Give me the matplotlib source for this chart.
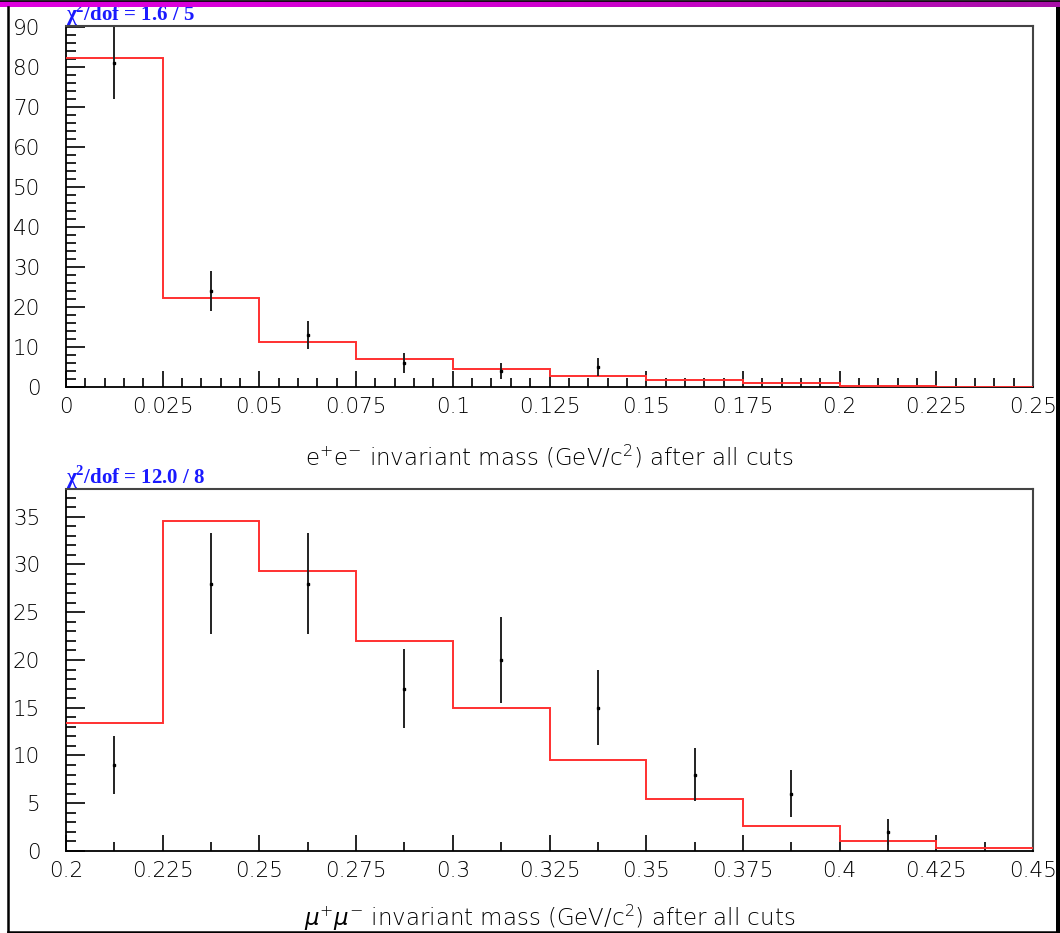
import numpy as np
import matplotlib
matplotlib.use("Agg")
import matplotlib.pyplot as plt
from matplotlib.ticker import MultipleLocator, FixedLocator, FixedFormatter
from matplotlib.lines import Line2D
from matplotlib.colors import LinearSegmentedColormap
from matplotlib.patches import Rectangle

plt.rcParams['font.family'] = ['DejaVu Sans']

# ---------------- data: e+e- panel ----------------
ee_edges = [0.0, 0.025, 0.05, 0.075, 0.1, 0.125, 0.15, 0.175, 0.2, 0.225, 0.25]
ee_fit = [82.3, 22.2, 11.2, 7.1, 4.5, 2.75, 1.85, 0.9, 0.15, 0.1]
ee_x = [0.0125, 0.0375, 0.0625, 0.0875, 0.1125, 0.1375]
ee_counts = [81, 24, 13, 6, 4, 5]
ee_err = [9.0, 4.9, 3.6, 2.45, 2.0, 2.24]
ee_xticks = [0, 0.025, 0.05, 0.075, 0.1, 0.125, 0.15, 0.175, 0.2, 0.225, 0.25]
ee_xticklabels = ["0", "0.025", "0.05", "0.075", "0.1", "0.125", "0.15", "0.175", "0.2", "0.225", "0.25"]
ee_yticks = [0, 10, 20, 30, 40, 50, 60, 70, 80, 90]
ee_chi = r"χ$^{\mathbf{2}}$/dof = 1.6 / 5"
ee_xlabel = r"e$^{+}$e$^{-}$ invariant mass (GeV/c$^{2}$) after all cuts"

# ---------------- data: mu+mu- panel ----------------
mm_edges = [0.2, 0.225, 0.25, 0.275, 0.3, 0.325, 0.35, 0.375, 0.4, 0.425, 0.45]
mm_fit = [13.4, 34.6, 29.3, 22.0, 15.0, 9.5, 5.4, 2.6, 1.0, 0.35]
mm_x = [0.2125, 0.2375, 0.2625, 0.2875, 0.3125, 0.3375, 0.3625, 0.3875, 0.4125]
mm_counts = [9, 28, 28, 17, 20, 15, 8, 6, 2]
mm_err = [3.0, 5.3, 5.3, 4.1, 4.5, 3.9, 2.8, 2.45, 1.4]
mm_xticks = [0.2, 0.225, 0.25, 0.275, 0.3, 0.325, 0.35, 0.375, 0.4, 0.425, 0.45]
mm_xticklabels = ["0.2", "0.225", "0.25", "0.275", "0.3", "0.325", "0.35", "0.375", "0.4", "0.425", "0.45"]
mm_yticks = [0, 5, 10, 15, 20, 25, 30, 35]
mm_chi = r"χ$^{\mathbf{2}}$/dof = 12.0 / 8"
mm_xlabel = r"$\mu^{+}\mu^{-}$ invariant mass (GeV/c$^{2}$) after all cuts"

W, H = 1060, 933
fig = plt.figure(figsize=(W / 100, H / 100), dpi=100)
fig.patch.set_facecolor('white')

TXT = 'black'

plt.rcParams['mathtext.fontset'] = 'custom'
plt.rcParams['mathtext.bf'] = 'Liberation Serif:bold'
plt.rcParams['mathtext.rm'] = 'DejaVu Sans:light'
plt.rcParams['mathtext.it'] = 'DejaVu Sans:italic:light'


def panel(rect, edges, fit, xs, counts, errs, xticks, xtl, yticks, ymax,
          xminor, yminor, chi, xlabel, xlabel_y):
    ax = fig.add_axes(rect)
    ax.stairs(fit, edges, baseline=None, color='#ff3030', lw=1.4, zorder=3)
    ax.errorbar(xs, counts, yerr=errs, fmt='s', ms=2, color='black',
                ecolor='#222222', elinewidth=1.4, capsize=0, zorder=4)
    ax.set_xlim(edges[0], edges[-1])
    ax.set_ylim(0, ymax)
    ax.xaxis.set_major_locator(FixedLocator(xticks))
    ax.xaxis.set_major_formatter(FixedFormatter(xtl))
    ax.xaxis.set_minor_locator(MultipleLocator(xminor))
    ax.yaxis.set_major_locator(FixedLocator(yticks))
    ax.yaxis.set_major_formatter(FixedFormatter([str(v) for v in yticks]))
    ax.yaxis.set_minor_locator(MultipleLocator(yminor))
    ax.tick_params(axis='x', which='major', direction='in', length=11.5, width=1.2,
                   pad=7, labelsize=15.5, color='black', labelcolor=TXT)
    ax.tick_params(axis='x', which='minor', direction='in', length=6.5, width=1.2, color='black')
    ax.tick_params(axis='y', which='major', direction='in', length=13.5, width=1.2,
                   pad=18.5, labelsize=15.5, color='black', labelcolor=TXT)
    ax.tick_params(axis='y', which='minor', direction='in', length=7, width=1.2, color='black')
    for lab in ax.get_xticklabels() + ax.get_yticklabels():
        lab.set_fontweight('light')
    for s in ['left', 'bottom']:
        ax.spines[s].set_color('black')
        ax.spines[s].set_linewidth(1.3)
    for s in ['top', 'right']:
        ax.spines[s].set_color('#444444')
        ax.spines[s].set_linewidth(1.5)
    x0 = rect[0]
    ytop = rect[1] + rect[3]
    fig.text(x0, ytop + 5 / H, chi, fontsize=15, fontweight='bold',
             family=['Liberation Serif', 'DejaVu Serif'], color='#1a1aff',
             ha='left', va='baseline')
    fig.text(rect[0] + rect[2] / 2, xlabel_y, xlabel, fontsize=16.5,
             ha='center', va='center', color=TXT, fontweight='light')
    return ax


panel([66 / W, 1 - 387 / H, 967 / W, 361 / H], ee_edges, ee_fit, ee_x, ee_counts,
      ee_err, ee_xticks, ee_xticklabels, ee_yticks, 90.3, 0.005, 2,
      ee_chi, ee_xlabel, 1 - 457 / H)
panel([66 / W, 1 - 851 / H, 967 / W, 362 / H], mm_edges, mm_fit, mm_x, mm_counts,
      mm_err, mm_xticks, mm_xticklabels, mm_yticks, 37.9, 0.0125, 1,
      mm_chi, mm_xlabel, 1 - 918 / H)

# top magenta gradient bar
bar = fig.add_axes([0, 1 - 7.5 / H, 1, 6.5 / H], zorder=10)
grad = np.linspace(0, 1, 256)[None, :]
cm = LinearSegmentedColormap.from_list('mg', ['#e000e0', '#d000d0', '#a810a8'])
bar.imshow(grad, aspect='auto', cmap=cm, extent=[0, 1, 0, 1])
bar.set_axis_off()

# window borders
fig.add_artist(Line2D([0, 1], [1 - 0.6 / H, 1 - 0.6 / H], color='black', lw=1.2, zorder=11))
fig.add_artist(Line2D([7.5 / W, 7.5 / W], [1 - 7 / H, 1 - 932 / H], color='black', lw=1.8, zorder=11))
fig.add_artist(Line2D([7.5 / W, 1], [1 - 931.5 / H, 1 - 931.5 / H], color='black', lw=1.8, zorder=11))
fig.add_artist(Rectangle((1056 / W, 0), 4 / W, 1 - 7 / H, transform=fig.transFigure,
                         facecolor='black', edgecolor='none', zorder=11))

fig.savefig('out.png', dpi=100)
